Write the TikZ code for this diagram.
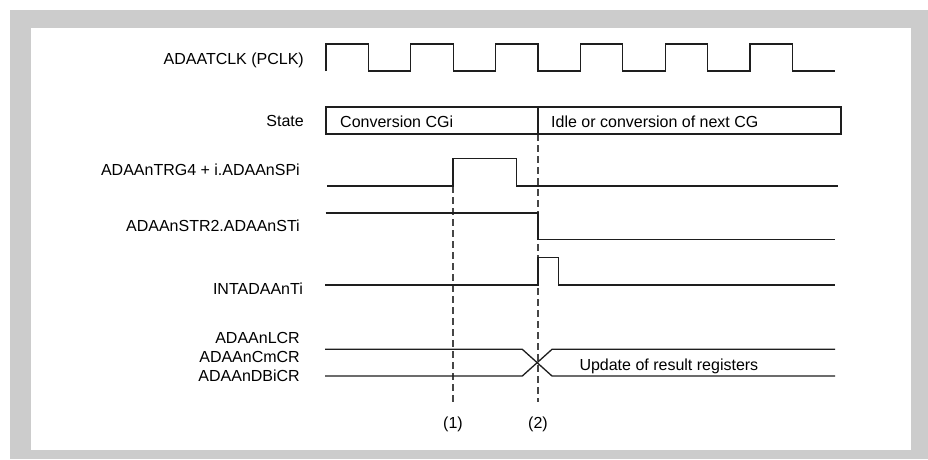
\documentclass[tikz,border=0pt]{standalone}
\usepackage{fontspec}
\setmainfont{Liberation Sans}
\definecolor{framegray}{RGB}{204,204,204}
\definecolor{sigcol}{RGB}{30,30,30}
\definecolor{dashcol}{RGB}{70,70,70}
\begin{document}
\begin{tikzpicture}[x=1pt,y=-1pt,
  sig/.style={draw=sigcol,line width=1.3pt,line join=miter},
  marker/.style={draw=dashcol,line width=1.2pt,dash pattern=on 7pt off 4pt},
  lbl/.style={font=\fontsize{16}{19}\selectfont,inner sep=0pt,anchor=base east},
  txt/.style={font=\fontsize{16}{19}\selectfont,inner sep=0pt,anchor=base west},
  num/.style={font=\fontsize{16}{19}\selectfont,inner sep=0pt,anchor=base}]
\useasboundingbox (0,0) rectangle (928,459);
\fill[framegray] (10,10) rectangle (928,459);
\fill[white] (31,28) rectangle (911,450);

% labels
\node[lbl] (lclk) at (304,64) {ADAATCLK (PCLK)};
\node[lbl] (lstate) at (304,126.5) {State};
\node[lbl] (ltrg) at (300,175.7) {ADAAnTRG4 + i.ADAAnSPi};
\node[lbl] (lstr) at (300,231.7) {ADAAnSTR2.ADAAnSTi};
\node[lbl] (lint) at (303,294.3) {INTADAAnTi};
\node[lbl] (llcr) at (300,343.7) {ADAAnLCR};
\node[lbl] (lcmcr) at (300,362.7) {ADAAnCmCR};
\node[lbl] (ldbcr) at (300,381.7) {ADAAnDBiCR};

% dashed markers
\draw[marker] (453,186) -- (453,402);
\draw[marker] (538,134) -- (538,402);
\node[num] (m1) at (453,428.5) {(1)};
\node[num] (m2) at (538,428.5) {(2)};

% clock
\draw[sig] (326,71)--(326,44)--(368.4,44)--(368.4,71)--(410.8,71)--(410.8,44)--(453.2,44)--(453.2,71)--(495.6,71)--(495.6,44)--(538,44)--(538,71)--(580.4,71)--(580.4,44)--(622.8,44)--(622.8,71)--(665.2,71)--(665.2,44)--(707.6,44)--(707.6,71)--(750,71)--(750,44)--(792.4,44)--(792.4,71)--(834.8,71);

% state
\draw[sig] (326,107) rectangle (841,134);
\draw[sig] (538,107) -- (538,134);
\node[txt] (sconv) at (340,127.3) {Conversion CGi};
\node[txt] (sidle) at (551,127.3) {Idle or conversion of next CG};

% TRG4
\draw[sig] (327,186) -- (453,186) -- (453,158.7) -- (516.3,158.7) -- (516.3,186) -- (838,186);
% STR2
\draw[sig] (325.7,213) -- (538,213) -- (538,239.7) -- (835,239.7);
% INT
\draw[sig] (325,285) -- (538,285) -- (538,257.7) -- (558.7,257.7) -- (558.7,285) -- (835,285);
% bus
\draw[sig] (325,349.3) -- (522.3,349.3) -- (552,376) -- (835,376);
\draw[sig] (325,376) -- (522.3,376) -- (552,349.3) -- (835,349.3);
\node[txt] (upd) at (579.3,370.7) {Update of result registers};
\end{tikzpicture}
\end{document}
